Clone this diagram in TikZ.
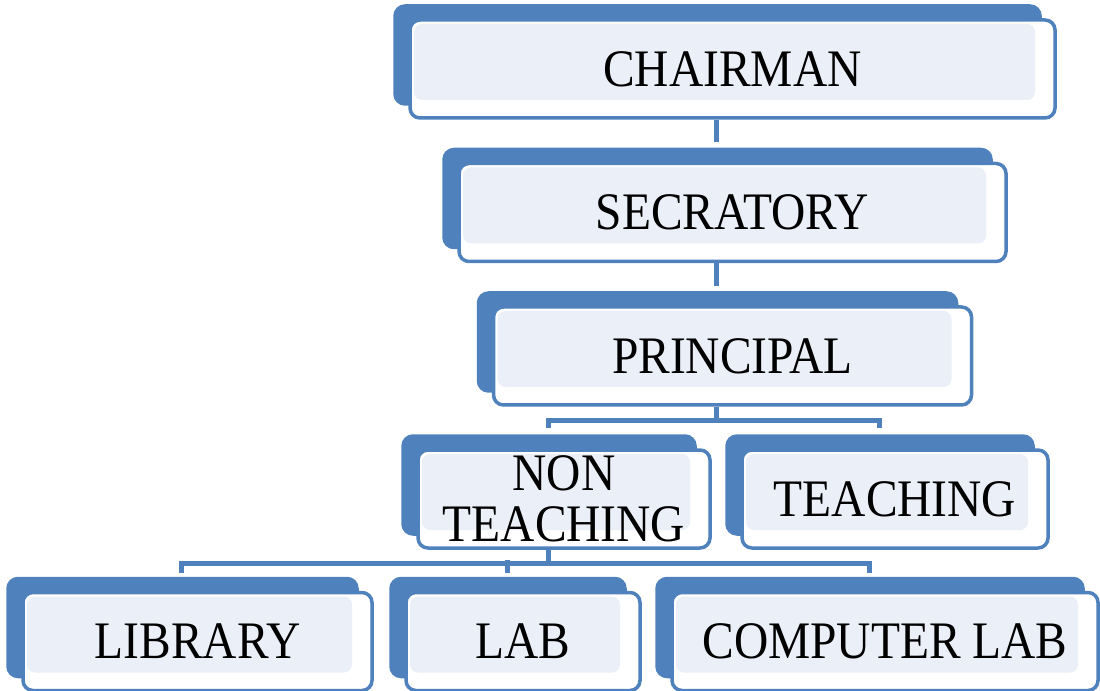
\documentclass[tikz,border=0pt]{standalone}
\usepackage{fontspec}
\setmainfont{Liberation Serif}[FakeStretch=0.9]
\usetikzlibrary{shadows}
\definecolor{boxblue}{HTML}{4F81BD}
\definecolor{boxfill}{HTML}{EBEFF7}
\tikzset{
  every node/.style={font=\fontsize{15}{14.5}\selectfont, text=black},
  post/.style={draw=boxblue, line width=0.35mm, fill=white, rounded corners=1mm,
    align=center, inner sep=0pt, minimum height=9.8mm,
    copy shadow={shadow xshift=-1.5mm, shadow yshift=1.4mm, fill=boxblue, draw=boxblue},
    path picture={\fill[boxfill, rounded corners=0.8mm]
      ([xshift=0.4mm,yshift=-0.4mm]path picture bounding box.north west) rectangle
      ([xshift=-2mm,yshift=1.8mm]path picture bounding box.south east);}},
  link/.style={draw=boxblue, line width=0.5mm},
}
\begin{document}
\begin{tikzpicture}[x=0.1mm, y=-0.1mm]
  \useasboundingbox (0,0) rectangle (1100,690);

  % management chain
  \node[post, minimum width=64.5mm] (chair) at (732.5,69) {CHAIRMAN};
  \node[post, minimum width=54.7mm] (sec) at (732.5,212.5) {SECRATORY};
  \node[post, minimum width=47.8mm] (prin) at (732.5,356) {PRINCIPAL};

  % staff
  \node[post, minimum width=29.2mm] (nonteach) at (564,499) {NON\\TEACHING};
  \node[post, minimum width=30.6mm] (teach) at (895,499) {TEACHING};

  % non teaching sections
  \node[post, minimum width=34.9mm] (lib) at (197.5,641.5) {LIBRARY};
  \node[post, minimum width=23.4mm] (lab) at (523,641.5) {LAB};
  \node[post, minimum width=42.6mm] (comp) at (885,641.5) {COMPUTER LAB};

  % --- connectors ---------------------------------------------------------
  \draw[link] ([xshift=-1.6mm]chair.south) -- ([xshift=-1.6mm,yshift=2mm]sec.north);
  \draw[link] ([xshift=-1.6mm]sec.south) -- ([xshift=-1.6mm,yshift=1.9mm]prin.north);

  \draw[link] ([xshift=-1.6mm]prin.south) -- ++(0,14);
  \draw[link] ([xshift=-1.6mm,yshift=2mm]nonteach.north) |- ([xshift=-1.6mm,yshift=-1.4mm]prin.south)
    -| ([xshift=-1.6mm,yshift=2mm]teach.north);

  \draw[link] ([xshift=-1.6mm]nonteach.south) -- ++(0,14);
  \draw[link] ([xshift=-1.6mm,yshift=1.8mm]lib.north) |- ([xshift=-1.6mm,yshift=-1.4mm]nonteach.south)
    -| ([xshift=-1.6mm,yshift=1.8mm]comp.north);
  \draw[link] ([xshift=-1.6mm,yshift=1.8mm]lab.north) -- ++(0,-13);
\end{tikzpicture}
\end{document}
